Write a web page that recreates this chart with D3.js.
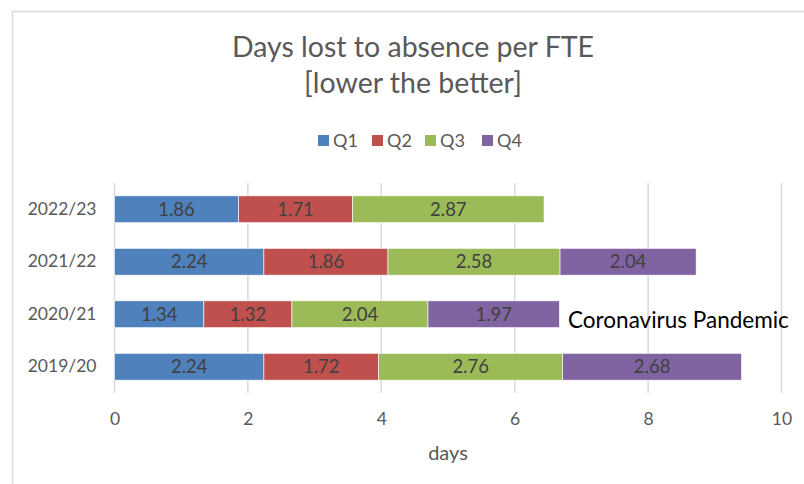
<!DOCTYPE html>
<html>
<head>
<meta charset="utf-8">
<script src="https://cdn.jsdelivr.net/npm/d3@7"></script>
<style>
  body { margin: 0; background: #fff; }
  svg { display: block; font-family: Lato, "Open Sans", sans-serif; }
</style>
</head>
<body>
<div id="chart"></div>
<script>
// data
var years = ["2022/23", "2021/22", "2020/21", "2019/20"];
var quarters = ["Q1", "Q2", "Q3", "Q4"];
var q1 = [1.86, 2.24, 1.34, 2.24];
var q2 = [1.71, 1.86, 1.32, 1.72];
var q3 = [2.87, 2.58, 2.04, 2.76];
var q4 = [null, 2.04, 1.97, 2.68];
var xTicks = [0, 2, 4, 6, 8, 10];
var colors = ["#4F81BD", "#C0504D", "#9BBB59", "#8064A2"];

var svgWidth = 804;
var svgHeight = 484;

var margin = { top: 183, left: 114.5 };
var plotW = 667;
var plotH = 210;

var svg = d3.select("#chart")
    .append("svg")
    .attr("width", svgWidth)
    .attr("height", svgHeight);

// chart frame (right and bottom edges fall outside the crop)
svg.append("rect")
    .attr("x", 12.5).attr("y", 11.5)
    .attr("width", 820).attr("height", 500)
    .attr("fill", "none")
    .attr("stroke", "#d9d9d9")
    .attr("stroke-width", 1.5);

// build rows for stacking
var rows = years.map(function(y, i) {
    return { year: y, Q1: q1[i], Q2: q2[i], Q3: q3[i], Q4: q4[i] || 0 };
});
var stacked = d3.stack().keys(quarters)(rows);

var x = d3.scaleLinear().domain([0, 10]).range([0, plotW]);
var y = d3.scaleBand().domain(years).range([0, plotH]).paddingInner(0.49).paddingOuter(0.245);

var g = svg.append("g")
    .attr("transform", `translate(${margin.left}, ${margin.top})`);

// gridlines
g.append("g")
    .selectAll("line")
    .data(xTicks)
    .enter()
    .append("line")
    .attr("x1", d => x(d)).attr("x2", d => x(d))
    .attr("y1", 0).attr("y2", plotH)
    .attr("stroke", "#d9d9d9")
    .attr("stroke-width", 1.5);

// x axis labels
var xAxis = g.append("g")
    .attr("transform", `translate(0, ${plotH})`)
    .call(d3.axisBottom(x).tickValues(xTicks).tickSize(0).tickPadding(20));
xAxis.select(".domain").remove();
xAxis.selectAll("text")
    .attr("font-family", "Lato, sans-serif")
    .attr("font-size", 17.5)
    .attr("fill", "#595959");

// y axis labels
var yAxis = g.append("g")
    .call(d3.axisLeft(y).tickSize(0).tickPadding(18));
yAxis.select(".domain").remove();
yAxis.selectAll("text")
    .attr("font-family", "Lato, sans-serif")
    .attr("font-size", 17.5)
    .attr("fill", "#595959");

// bars
var layers = g.selectAll(".layer")
    .data(stacked)
    .enter()
    .append("g")
    .attr("fill", (d, i) => colors[i]);

layers.selectAll("rect")
    .data(d => d.filter(p => p[1] - p[0] > 0))
    .enter()
    .append("rect")
    .attr("x", d => x(d[0]))
    .attr("y", d => y(d.data.year))
    .attr("width", d => x(d[1]) - x(d[0]))
    .attr("height", y.bandwidth())
    .attr("stroke", "#fff")
    .attr("stroke-width", 0.6);

layers.selectAll("text")
    .data(d => d.filter(p => p[1] - p[0] > 0))
    .enter()
    .append("text")
    .attr("x", d => (x(d[0]) + x(d[1])) / 2)
    .attr("y", d => y(d.data.year) + y.bandwidth() / 2)
    .attr("dy", "0.36em")
    .attr("text-anchor", "middle")
    .attr("font-size", 18.5)
    .attr("fill", "#404040")
    .text(d => (d[1] - d[0]).toFixed(2));

// annotation
g.append("text")
    .attr("x", x(6.8))
    .attr("y", 328 - margin.top)
    .attr("font-size", 22.5)
    .attr("fill", "#000")
    .text("Coronavirus Pandemic");

// axis title
svg.append("text")
    .attr("x", margin.left + plotW / 2)
    .attr("y", 460)
    .attr("text-anchor", "middle")
    .attr("font-size", 20)
    .attr("fill", "#595959")
    .text("days");

// title
var title = svg.append("text")
    .attr("text-anchor", "middle")
    .attr("font-size", 28.5)
    .attr("fill", "#595959");
title.append("tspan").attr("x", 413).attr("y", 57).text("Days lost to absence per FTE");
title.append("tspan").attr("x", 413).attr("y", 93).text("[lower the better]");

// legend
var legendX = [318, 372, 425, 482];
var legend = svg.append("g")
    .selectAll("g")
    .data(quarters)
    .enter()
    .append("g")
    .attr("transform", (d, i) => `translate(${legendX[i]}, 135)`);
legend.append("rect")
    .attr("width", 11).attr("height", 11)
    .attr("fill", (d, i) => colors[i]);
legend.append("text")
    .attr("x", 15).attr("y", 11.5)
    .attr("font-size", 18)
    .attr("fill", "#595959")
    .text(d => d);
</script>
</body>
</html>
